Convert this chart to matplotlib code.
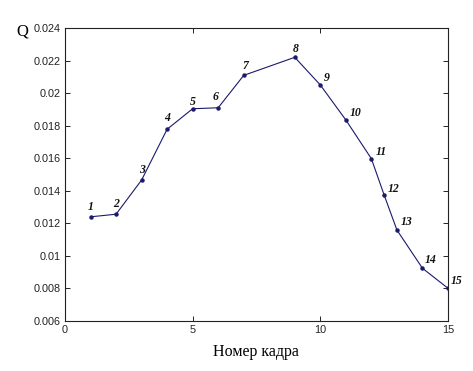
import matplotlib
matplotlib.use("Agg")
import matplotlib.pyplot as plt

frames = [1, 2, 3, 4, 5, 6, 7, 9, 10, 11, 12, 12.5, 13, 14, 15]
q_values = [0.0124, 0.01256, 0.01466, 0.01778, 0.01904, 0.0191, 0.02109, 0.0222,
            0.0205, 0.01835, 0.01597, 0.01374, 0.01159, 0.00924, 0.00801]
point_labels = [str(i) for i in range(1, 16)]
x_ticks = [0, 5, 10, 15]
y_ticks = [0.006, 0.008, 0.01, 0.012, 0.014, 0.016, 0.018, 0.02, 0.022, 0.024]
y_tick_labels = ["0.006", "0.008", "0.01", "0.012", "0.014", "0.016", "0.018", "0.02", "0.022", "0.024"]

# label offsets in points (style)
offsets = [(0, 7), (0, 7), (0, 7), (0, 8), (0, 5), (-2, 8), (1, 7), (1, 6),
           (5, 5), (7, 5), (7, 5), (7, 4), (7, 6), (6, 6), (6, 5)]

fig = plt.figure(figsize=(4.73, 3.71), dpi=100)
ax = fig.add_axes([0.1374, 0.1348, 0.8097, 0.7897])

line_color = "#1a1a6e"
ax.plot(frames, q_values, color=line_color, lw=0.8, marker="o", ms=2.2,
        mfc=line_color, mec=line_color)

for x, y, lab, (dx, dy) in zip(frames, q_values, point_labels, offsets):
    ax.annotate(lab, (x, y), xytext=(dx, dy), textcoords="offset points",
                ha="center", va="center", fontsize=8.5, fontweight="bold",
                fontstyle="italic", family="Liberation Serif", color="#111111")

ax.set_xlim(0, 15)
ax.set_ylim(0.006, 0.024)
ax.set_xticks(x_ticks)
ax.set_xticklabels([str(t) for t in x_ticks])
ax.set_yticks(y_ticks)
ax.set_yticklabels(y_tick_labels)

ax.tick_params(direction="in", length=3.5, width=0.7, top=True, right=True,
               labelsize=7.8, colors="#222222", pad=3)
for lab in ax.get_xticklabels() + ax.get_yticklabels():
    lab.set_family("Liberation Sans")
for s in ax.spines.values():
    s.set_linewidth(0.8)
    s.set_color("#222222")

fig.text(0.0465, 0.915, "Q", fontsize=12, family="Liberation Serif", ha="center", va="center")
fig.text(0.541, 0.05, "Номер кадра", fontsize=11.5, family="Liberation Serif",
         ha="center", va="center")

fig.savefig("out.png", dpi=100)
